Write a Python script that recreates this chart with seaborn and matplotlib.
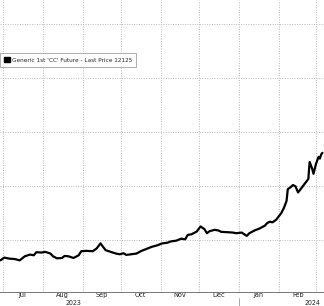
import pandas as pd
import matplotlib
matplotlib.use('Agg')
import matplotlib.pyplot as plt
import matplotlib.dates as mdates
import matplotlib.transforms as mtransforms
from matplotlib.patches import Rectangle
import seaborn as sns

# values (cocoa, generic 1st future)
dates = ['2023-06-29', '2023-07-02', '2023-07-06', '2023-07-10', '2023-07-14',
         '2023-07-18', '2023-07-22', '2023-07-25', '2023-07-27', '2023-07-31',
         '2023-08-03', '2023-08-07', '2023-08-09', '2023-08-12', '2023-08-16',
         '2023-08-18', '2023-08-21', '2023-08-25', '2023-08-29', '2023-08-31',
         '2023-09-04', '2023-09-09', '2023-09-12', '2023-09-15', '2023-09-17',
         '2023-09-19', '2023-09-23', '2023-09-27', '2023-09-30', '2023-10-03',
         '2023-10-05', '2023-10-09', '2023-10-13', '2023-10-17', '2023-10-21',
         '2023-10-25', '2023-10-29', '2023-11-02', '2023-11-06', '2023-11-09',
         '2023-11-13', '2023-11-17', '2023-11-20', '2023-11-22', '2023-11-25',
         '2023-11-29', '2023-12-02', '2023-12-05', '2023-12-07', '2023-12-09',
         '2023-12-13', '2023-12-16', '2023-12-18', '2023-12-23', '2023-12-27',
         '2023-12-30', '2024-01-03', '2024-01-07', '2024-01-09', '2024-01-13',
         '2024-01-17', '2024-01-21', '2024-01-23', '2024-01-25', '2024-01-27',
         '2024-01-30', '2024-02-01', '2024-02-03', '2024-02-05', '2024-02-07',
         '2024-02-08', '2024-02-10', '2024-02-12', '2024-02-14', '2024-02-16',
         '2024-02-18', '2024-02-21', '2024-02-24', '2024-02-25', '2024-02-27',
         '2024-02-28', '2024-03-01', '2024-03-03', '2024-03-04', '2024-03-05',
         '2024-03-06']
prices = [3246, 3348, 3310, 3296, 3246, 3397, 3460, 3435, 3548, 3535,
          3560, 3498, 3397, 3322, 3334, 3410, 3397, 3334, 3435, 3585,
          3598, 3585, 3686, 3874, 3748, 3623, 3560, 3498, 3472, 3510,
          3447, 3472, 3498, 3598, 3673, 3748, 3799, 3874, 3899, 3950,
          3975, 4050, 4025, 4188, 4213, 4314, 4502, 4402, 4251, 4326,
          4377, 4352, 4302, 4289, 4276, 4251, 4276, 4151, 4251, 4352,
          4427, 4528, 4628, 4679, 4653, 4754, 4879, 5005, 5194, 5444,
          5885, 5949, 6036, 5987, 5761, 5885, 6074, 6262, 6892, 6640,
          6451, 6828, 7080, 7016, 7167, 7230]
legend_label = "Generic 1st 'CC' Future - Last Price 12125"
year_labels = ['2023', '2024']
year_label_dates = ['2023-08-25', '2024-02-27']

df = pd.DataFrame({'date': pd.to_datetime(dates), 'price': prices})

sns.set_theme(style='white')
plt.rcParams['font.family'] = ['DejaVu Sans']
plt.rcParams['font.stretch'] = 'condensed'

fig = plt.figure(figsize=(3.24, 3.06), dpi=100)
ax = fig.add_axes([0, 14 / 306, 1, 292 / 306])

sns.lineplot(data=df, x='date', y='price', color='black', linewidth=1.6,
             legend=False, ax=ax)

ax.set_xlim(pd.Timestamp('2023-06-28 16:00'), pd.Timestamp('2024-03-07 05:00'))
ax.set_ylim(2074, 12890)

# month grid + labels in between
ax.xaxis.set_major_locator(mdates.MonthLocator())
ax.xaxis.set_major_formatter(plt.NullFormatter())
ax.xaxis.set_minor_locator(mdates.MonthLocator(bymonthday=16))
ax.xaxis.set_minor_formatter(mdates.DateFormatter('%b'))
ax.tick_params(axis='x', which='major', length=4, width=0.6, color='#777777',
               direction='inout')
ax.tick_params(axis='x', which='minor', length=0, labelsize=5.2, pad=0.3,
               labelcolor='#222222')
ax.set_yticks([4000, 6000, 8000, 10000, 12000])
ax.tick_params(axis='y', length=0, labelleft=False)
ax.grid(True, which='major', axis='both', color='#b8b8b8', linestyle=(0, (1, 1.5)),
        linewidth=0.7)
ax.set_xlabel('')
ax.set_ylabel('')

for side in ['left', 'right', 'top']:
    ax.spines[side].set_visible(False)
ax.spines['bottom'].set_color('#777777')
ax.spines['bottom'].set_linewidth(0.7)

# year row below the months
trans = mtransforms.blended_transform_factory(ax.transData, ax.transAxes)
for lbl, d in zip(year_labels, year_label_dates):
    ax.text(pd.Timestamp(d), -0.036, lbl, transform=trans, ha='center', va='center',
            fontsize=5, color='#222222', clip_on=False)
ax.plot([pd.Timestamp('2024-01-01')] * 2, [-0.02, -0.06], transform=trans,
        color='#999999', linewidth=0.6, clip_on=False)

# legend with a black square handle
sq = Rectangle((0, 0), 1, 1, facecolor='black', edgecolor='black')
leg = ax.legend([sq], [legend_label], loc='upper left',
                bbox_to_anchor=(0.0, 1 - 53 / 292), fontsize=4.6, frameon=True,
                fancybox=False, borderpad=0.6, handlelength=0.9,
                handleheight=0.9, handletextpad=0.4, borderaxespad=0)
leg.get_frame().set_edgecolor('#888888')
leg.get_frame().set_linewidth(0.6)

fig.savefig('out.png', dpi=100)
